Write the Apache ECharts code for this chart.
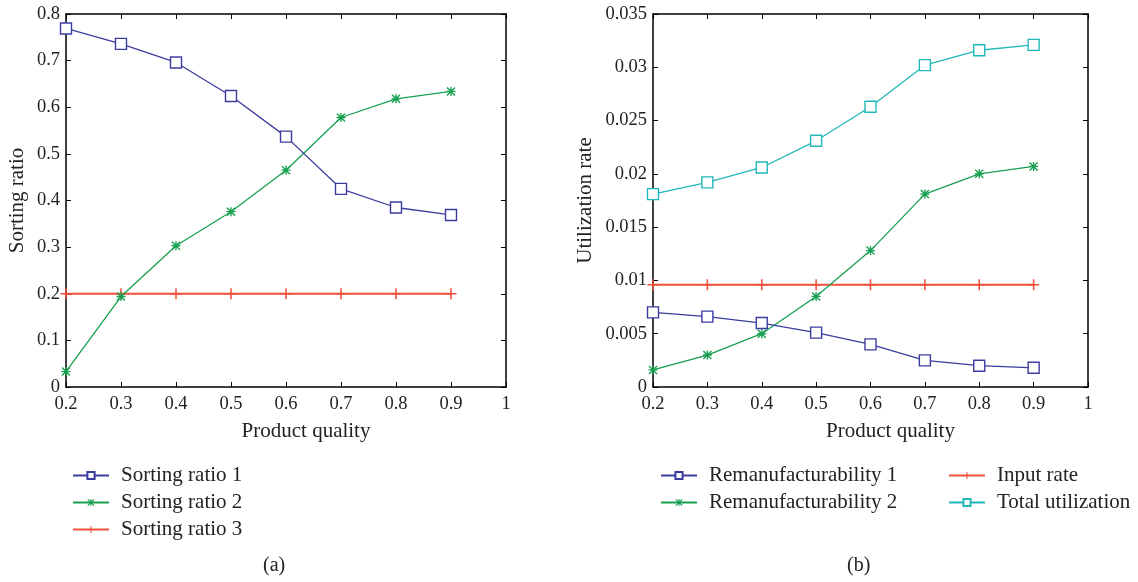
<!DOCTYPE html>
<html>
<head>
<meta charset="utf-8">
<title>Sorting ratio and utilization rate vs product quality</title>
<script src="https://cdn.jsdelivr.net/npm/echarts@6/dist/echarts.min.js"></script>
<style>
  html, body { margin: 0; padding: 0; background: #ffffff; }
  #chart { width: 1138px; height: 582px; }
</style>
</head>
<body>
<div id="chart"></div>
<script>
// Product quality levels (shared x values)
const quality = [0.2, 0.3, 0.4, 0.5, 0.6, 0.7, 0.8, 0.9];

// Panel (a): sorting ratios
const sortingRatio1 = [0.769, 0.736, 0.696, 0.624, 0.537, 0.425, 0.385, 0.369];
const sortingRatio2 = [0.033, 0.194, 0.303, 0.376, 0.465, 0.578, 0.618, 0.634];
const sortingRatio3 = [0.2, 0.2, 0.2, 0.2, 0.2, 0.2, 0.2, 0.2];

// Panel (b): utilization rates
const reman1 = [0.0070, 0.0066, 0.0060, 0.0051, 0.0040, 0.0025, 0.0020, 0.0018];
const reman2 = [0.0016, 0.0030, 0.0050, 0.0085, 0.0128, 0.0181, 0.0200, 0.0207];
const inputRate = [0.0096, 0.0096, 0.0096, 0.0096, 0.0096, 0.0096, 0.0096, 0.0096];
const totalUtil = [0.0181, 0.0192, 0.0206, 0.0231, 0.0263, 0.0302, 0.0316, 0.0321];

const FONT = 'Liberation Serif';
const TICK_SIZE = 18.5;
const TEXT_SIZE = 21;
const BLUE = '#3c3ca0';
const GREEN = '#17a050';
const RED = '#f0503a';
const CYAN = '#22b8b8';

// marker shapes: asterisk and plus
const STAR = 'path://M8.5 0L11.5 0L11.5 20L8.5 20Z M0 8.5L20 8.5L20 11.5L0 11.5Z M0 2.2L2.2 0L20 17.8L17.8 20Z M17.8 0L20 2.2L2.2 20L0 17.8Z';
const PLUS = 'path://M8.6 0L11.4 0L11.4 20L8.6 20Z M0 8.6L20 8.6L20 11.4L0 11.4Z';

const pairs = ys => quality.map((q, i) => [q, ys[i]]);

function frameX(gridIndex, bottom) {
  return {
    type: 'value', gridIndex, min: 0.2, max: 1, interval: 0.1,
    position: bottom ? 'bottom' : 'top',
    axisLine: { show: true, onZero: false, lineStyle: { color: '#000', width: 1.5 } },
    axisTick: { show: true, inside: true, length: 5, lineStyle: { color: '#000' } },
    axisLabel: bottom ? {
      show: true, margin: 8, fontFamily: FONT, fontSize: TICK_SIZE, color: '#222',
      formatter: v => String(+v.toFixed(2))
    } : { show: false },
    splitLine: { show: false },
    name: bottom ? 'Product quality' : '',
    nameLocation: 'middle', nameGap: 34,
    nameTextStyle: { fontFamily: FONT, fontSize: TEXT_SIZE, color: '#222', padding: [0, 0, 0, 40] }
  };
}

function frameY(gridIndex, left, max, interval, name, gap) {
  return {
    type: 'value', gridIndex, min: 0, max, interval,
    position: left ? 'left' : 'right',
    axisLine: { show: true, onZero: false, lineStyle: { color: '#000', width: 1.5 } },
    axisTick: { show: true, inside: true, length: 5, lineStyle: { color: '#000' } },
    axisLabel: left ? {
      show: true, margin: 6, fontFamily: FONT, fontSize: TICK_SIZE, color: '#222',
      formatter: v => String(+v.toFixed(4))
    } : { show: false },
    splitLine: { show: false },
    name: left ? name : '',
    nameLocation: 'middle', nameGap: gap || 40,
    nameTextStyle: { fontFamily: FONT, fontSize: TEXT_SIZE, color: '#222' }
  };
}

function lineSeries(name, xi, yi, ys, color, symbol, size, width) {
  return {
    name, type: 'line', xAxisIndex: xi, yAxisIndex: yi,
    data: pairs(ys),
    symbol, symbolSize: size, showSymbol: true,
    lineStyle: { color, width: width || 1.3 },
    itemStyle: symbol === 'rect'
      ? { color: '#fff', borderColor: color, borderWidth: 1.4 }
      : { color: color, borderWidth: 0 },
    emphasis: { disabled: true },
    animation: false, z: symbol === 'rect' ? 3 : 2
  };
}

const legendBase = {
  orient: 'vertical', itemWidth: 36, itemHeight: 9, itemGap: 6,
  textStyle: { fontFamily: FONT, fontSize: TEXT_SIZE, color: '#222', padding: [0, 0, 0, 7] },
  selectedMode: false
};

const chart = echarts.init(document.getElementById('chart'), null, { renderer: 'canvas' });
chart.setOption({
  backgroundColor: '#ffffff',
  animation: false,
  grid: [
    { left: 66, top: 14, width: 440, height: 373 },
    { left: 653, top: 14, width: 435, height: 373 }
  ],
  xAxis: [frameX(0, true), frameX(0, false), frameX(1, true), frameX(1, false)],
  yAxis: [
    frameY(0, true, 0.8, 0.1, 'Sorting ratio', 38),
    frameY(0, false, 0.8, 0.1),
    frameY(1, true, 0.035, 0.005, 'Utilization rate', 57),
    frameY(1, false, 0.035, 0.005)
  ],
  legend: [
    Object.assign({}, legendBase, { left: 67, top: 460, data: ['Sorting ratio 1', 'Sorting ratio 2', 'Sorting ratio 3'] }),
    Object.assign({}, legendBase, { left: 655, top: 460, data: ['Remanufacturability 1', 'Remanufacturability 2'] }),
    Object.assign({}, legendBase, { left: 943, top: 460, data: ['Input rate', 'Total utilization'] })
  ],
  title: [
    { text: '(a)', left: 258, top: 551, textStyle: { fontFamily: FONT, fontSize: 20, fontWeight: 'normal', color: '#222' } },
    { text: '(b)', left: 842, top: 551, textStyle: { fontFamily: FONT, fontSize: 20, fontWeight: 'normal', color: '#222' } }
  ],
  series: [
    lineSeries('Sorting ratio 3', 0, 0, sortingRatio3, RED, PLUS, 11, 2),
    lineSeries('Sorting ratio 1', 0, 0, sortingRatio1, BLUE, 'rect', 11),
    lineSeries('Sorting ratio 2', 0, 0, sortingRatio2, GREEN, STAR, 9),
    lineSeries('Input rate', 2, 2, inputRate, RED, PLUS, 11, 2),
    lineSeries('Remanufacturability 1', 2, 2, reman1, BLUE, 'rect', 11),
    lineSeries('Remanufacturability 2', 2, 2, reman2, GREEN, STAR, 9),
    lineSeries('Total utilization', 2, 2, totalUtil, CYAN, 'rect', 11)
  ]
});
</script>
</body>
</html>
